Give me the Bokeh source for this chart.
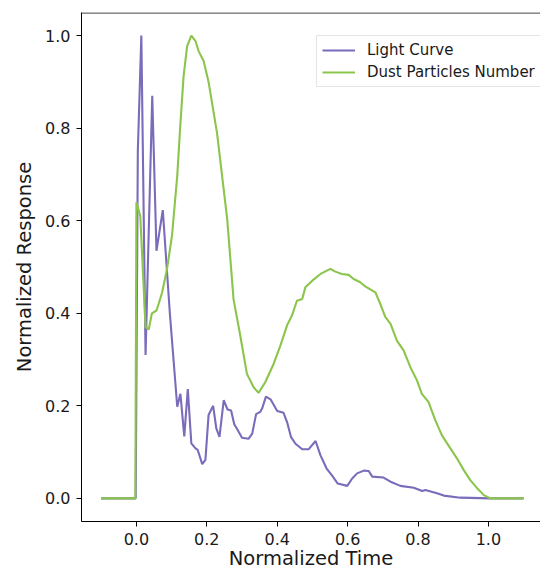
from bokeh.plotting import figure
from bokeh.models import Range1d, FixedTicker, PrintfTickFormatter, Span, Legend, LegendItem
from bokeh.embed import file_html
from bokeh.resources import INLINE

time_light = [-0.1, -0.002, 0.004, 0.014, 0.026, 0.045, 0.057, 0.075, 0.095, 0.116, 0.125, 0.136, 0.146, 0.156,
              0.168, 0.174, 0.187, 0.196, 0.205, 0.218, 0.227, 0.236, 0.248, 0.259, 0.269, 0.278, 0.286, 0.300,
              0.319, 0.329, 0.340, 0.352, 0.357, 0.368, 0.381, 0.400, 0.418, 0.428, 0.439, 0.452, 0.471, 0.489,
              0.509, 0.523, 0.540, 0.556, 0.572, 0.599, 0.613, 0.627, 0.646, 0.660, 0.670, 0.702, 0.722, 0.750,
              0.788, 0.812, 0.821, 0.854, 0.873, 0.920, 1.006, 1.1]
light_curve = [0, 0, 0.75, 1.0, 0.31, 0.87, 0.535, 0.623, 0.40, 0.198, 0.226, 0.134, 0.236, 0.119, 0.108, 0.105,
               0.074, 0.083, 0.18, 0.20, 0.151, 0.133, 0.212, 0.192, 0.19, 0.16, 0.15, 0.131, 0.129, 0.14, 0.182,
               0.187, 0.194, 0.22, 0.214, 0.189, 0.185, 0.165, 0.133, 0.118, 0.106, 0.106, 0.124, 0.093, 0.065,
               0.049, 0.032, 0.027, 0.043, 0.054, 0.06, 0.059, 0.047, 0.045, 0.036, 0.027, 0.023, 0.016, 0.018,
               0.011, 0.006, 0.0015, 0.0, 0.0]

time_dust = [-0.1, -0.003, 0.0, 0.011, 0.026, 0.035, 0.044, 0.057, 0.063, 0.073, 0.087, 0.101, 0.116, 0.125,
             0.134, 0.144, 0.156, 0.168, 0.177, 0.191, 0.205, 0.229, 0.258, 0.276, 0.295, 0.314, 0.333, 0.347,
             0.366, 0.390, 0.409, 0.428, 0.442, 0.456, 0.471, 0.480, 0.499, 0.523, 0.551, 0.565, 0.584, 0.603,
             0.617, 0.636, 0.650, 0.679, 0.693, 0.707, 0.722, 0.740, 0.759, 0.778, 0.797, 0.811, 0.830, 0.849,
             0.868, 0.892, 0.911, 0.930, 0.949, 0.968, 0.987, 1.006, 1.1]
dust_number = [0, 0, 0.64, 0.61, 0.37, 0.365, 0.40, 0.406, 0.42, 0.445, 0.496, 0.567, 0.697, 0.81, 0.912, 0.977,
               1.0, 0.988, 0.966, 0.945, 0.90, 0.79, 0.603, 0.43, 0.352, 0.269, 0.24, 0.228, 0.251, 0.291, 0.33,
               0.374, 0.395, 0.427, 0.431, 0.456, 0.47, 0.485, 0.496, 0.49, 0.485, 0.483, 0.474, 0.467, 0.458,
               0.445, 0.42, 0.392, 0.377, 0.341, 0.32, 0.284, 0.255, 0.226, 0.208, 0.169, 0.136, 0.108, 0.086,
               0.061, 0.039, 0.022, 0.007, 0, 0]

x_ticks = [0.0, 0.2, 0.4, 0.6, 0.8, 1.0]
y_ticks = [0.0, 0.2, 0.4, 0.6, 0.8, 1.0]

PURPLE = "#7b6bbb"
GREEN = "#8bc54c"
FONT = "DejaVu Sans"

p = figure(width=540, height=572, output_backend="svg", toolbar_location=None,
           x_range=Range1d(-0.156, 1.148), y_range=Range1d(-0.05, 1.05),
           min_border_left=81, min_border_right=0, min_border_top=12, min_border_bottom=49)
p.outline_line_color = None
p.xgrid.visible = False
p.ygrid.visible = False
p.background_fill_color = "white"
p.border_fill_color = "white"

r1 = p.line(time_light, light_curve, line_color=PURPLE, line_width=2.1)
r2 = p.line(time_dust, dust_number, line_color=GREEN, line_width=2.1)

for ax, ticks in ((p.xaxis, x_ticks), (p.yaxis, y_ticks)):
    ax.ticker = FixedTicker(ticks=ticks)
    ax.formatter = PrintfTickFormatter(format="%.1f")
    ax.minor_tick_line_color = None
    ax.major_tick_in = 0
    ax.major_tick_out = 5
    ax.major_tick_line_color = "black"
    ax.axis_line_color = "black"
    ax.axis_line_width = 1
    ax.major_label_text_font = FONT
    ax.major_label_text_font_size = "16px"
    ax.major_label_text_color = "#1a1a1a"
    ax.axis_label_text_font = FONT
    ax.axis_label_text_font_size = "19.5px"
    ax.axis_label_text_font_style = "normal"
    ax.axis_label_text_color = "#1a1a1a"
    ax.major_label_standoff = 6

p.xaxis.axis_label = "Normalized Time"
p.yaxis.axis_label = "Normalized Response"
p.xaxis.axis_label_standoff = -1
p.yaxis.axis_label_standoff = 6

p.add_layout(Span(location=1.049, dimension="width", line_color="black", line_width=1))

legend = Legend(items=[LegendItem(label="Light Curve", renderers=[r1]),
                       LegendItem(label="Dust Particles Number", renderers=[r2])],
                location=(235, 434))
legend.label_text_font = FONT
legend.label_text_font_size = "15px"
legend.label_text_color = "#1a1a1a"
legend.glyph_width = 33
legend.glyph_height = 18
legend.label_standoff = 12
legend.padding = 5
legend.spacing = 4
legend.margin = 0
legend.border_line_color = "#cccccc"
legend.border_line_width = 1
legend.background_fill_color = "white"
legend.background_fill_alpha = 0.8
p.add_layout(legend)

open("out.html", "w").write(file_html(p, INLINE))
